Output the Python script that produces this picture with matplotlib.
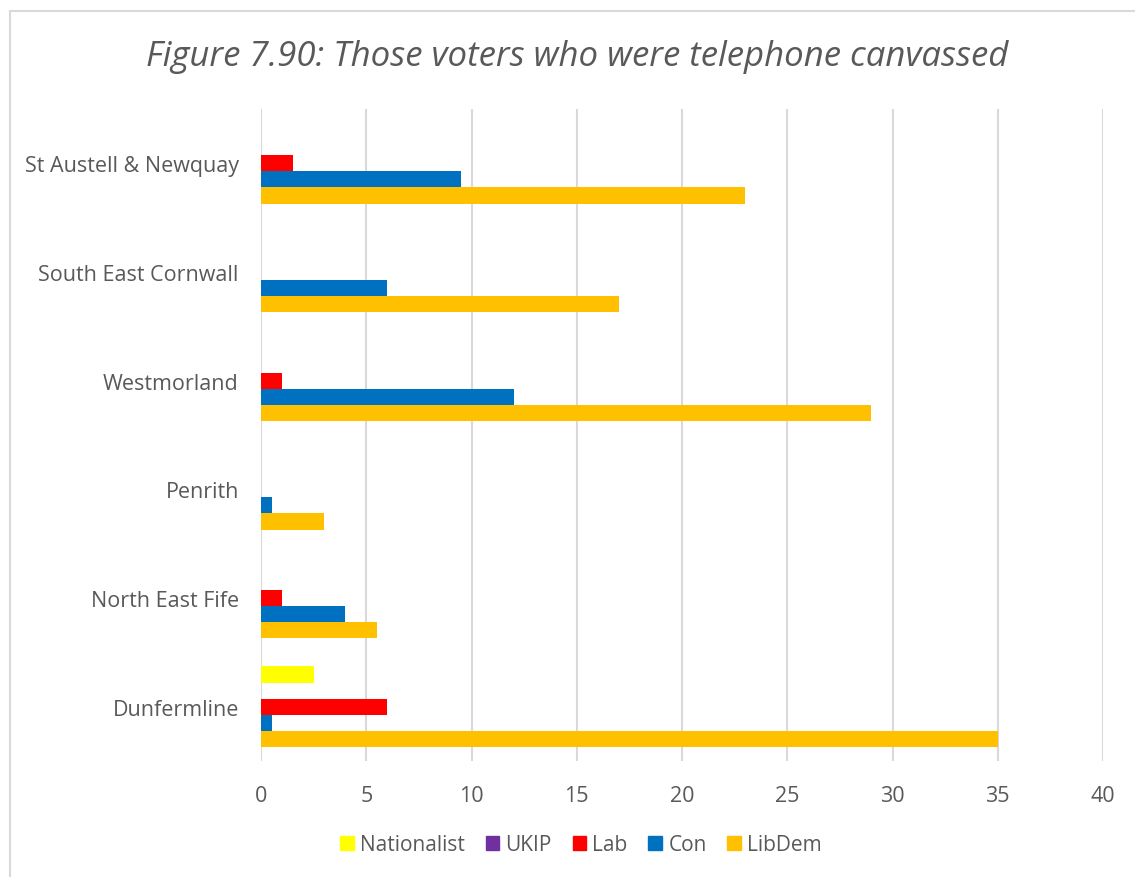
import matplotlib.pyplot as plt
from matplotlib.lines import Line2D
import numpy as np

# constituencies, bottom to top
seats = ["Dunfermline", "North East Fife", "Penrith", "Westmorland",
         "South East Cornwall", "St Austell & Newquay"]

series = ["Nationalist", "UKIP", "Lab", "Con", "LibDem"]
colors = ["#FFFF00", "#7030A0", "#FF0000", "#0070C0", "#FFC000"]

nationalist = [2.5, 0, 0, 0, 0, 0]
ukip = [0, 0, 0, 0, 0, 0]
lab = [6, 1, 0, 1, 0, 1.5]
con = [0.5, 4, 0.5, 12, 6, 9.5]
libdem = [35, 5.5, 3, 29, 17, 23]
values = [nationalist, ukip, lab, con, libdem]

xticks = [0, 5, 10, 15, 20, 25, 30, 35, 40]

plt.rcParams['font.family'] = ['Open Sans', 'DejaVu Sans']
txt = "#595959"

fig = plt.figure(figsize=(11.35, 8.78), dpi=100)
ax = fig.add_axes([261/1135, 1 - 762/878, (1103-261)/1135, (762-110)/878])

y = np.arange(len(seats))
h = 0.148
offsets = [2*h, h, 0, -h, -2*h]
for vals, off, c, name in zip(values, offsets, colors, series):
    ax.barh(y + off, vals, height=h, color=c, label=name, zorder=3)

ax.set_xlim(0, 40)
ax.set_ylim(-0.5, len(seats) - 0.5)
ax.set_xticks(xticks)
ax.set_yticks(y)
ax.set_yticklabels(seats)
ax.tick_params(length=0, labelsize=15.5, colors=txt)
ax.tick_params(axis='y', pad=16)
ax.tick_params(axis='x', pad=17)
ax.grid(axis='x', color="#D9D9D9", linewidth=1.5, zorder=0)
for s in ax.spines.values():
    s.set_visible(False)

fig.text(577/1135, 1 - 57/878, "Figure 7.90: Those voters who were telephone canvassed",
         ha='center', va='center', fontsize=25, style='italic', color=txt)

handles = [plt.Rectangle((0, 0), 1, 1, color=c) for c in colors]
fig.legend(handles, series, loc='center', bbox_to_anchor=(581/1135, 1 - 846/878),
           ncol=5, frameon=False, fontsize=15, labelcolor=txt,
           handlelength=0.65, handleheight=0.65, handletextpad=0.3, columnspacing=1.0)

# light chart border (top and left only visible)
fig.add_artist(Line2D([10/1135, 1], [1 - 12/878, 1 - 12/878], color="#D9D9D9", lw=1.5))
fig.add_artist(Line2D([10/1135, 10/1135], [0, 1 - 12/878], color="#D9D9D9", lw=1.5))

fig.savefig("out.png", dpi=100)
